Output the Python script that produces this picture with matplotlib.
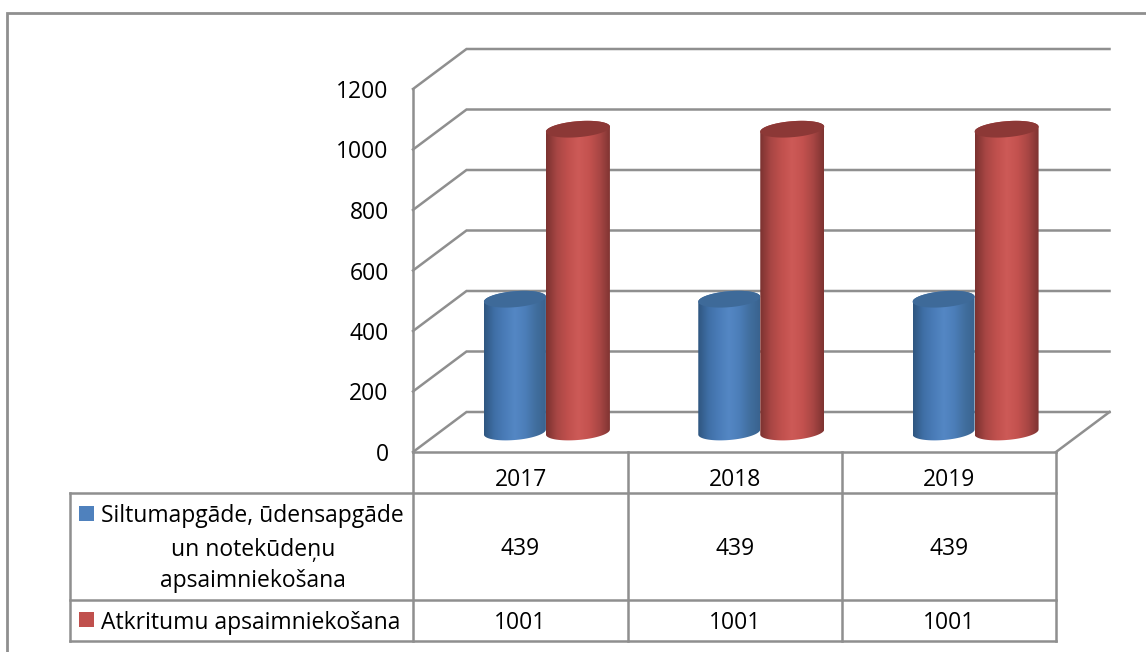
# 3D-look cylinder chart with a data table underneath

import numpy as np
import matplotlib
matplotlib.use("Agg")
import matplotlib.pyplot as plt
from matplotlib.colors import LinearSegmentedColormap
from matplotlib.patches import Polygon

years = ["2017", "2018", "2019"]
heat_water = [439, 439, 439]
waste = [1001, 1001, 1001]
y_ticks = [0, 200, 400, 600, 800, 1000, 1200]
series_names = ["Siltumapgāde, ūdensapgāde\nun notekūdeņu\napsaimniekošana",
                "Atkritumu apsaimniekošana"]

W, H = 1146, 652
GREY = "#8f8f8f"
FONT = "Open Sans"
FS = 16.5
LW = 1.8

plt.rcParams["font.family"] = [FONT, "DejaVu Sans"]
fig = plt.figure(figsize=(W / 100, H / 100), dpi=100)

# overlay in pixels for the frame and table rules
ov = fig.add_axes([0, 0, 1, 1], zorder=0)
ov.set_xlim(0, W)
ov.set_ylim(H, 0)
ov.axis("off")

# chart axes sit on the front plane of the 3D box
ax = fig.add_axes([413 / W, (H - 452) / H, 643 / W, 363 / H], zorder=1)
ax.patch.set_alpha(0)
ax.set_xlim(0, 3)
ax.set_ylim(0, 1200)
for s in ax.spines.values():
    s.set_visible(False)

px_x = 3 / 643
px_y = 1200 / 363
depth_x = 53.5 * px_x
depth_y = 40 * px_y

ax.set_yticks(y_ticks)
ax.set_yticklabels([str(v) for v in y_ticks], fontsize=FS, color="black", va="center_baseline")
ax.tick_params(axis="y", length=0, pad=17.5)
ax.set_xticks([])

# walls
for v in y_ticks:
    ax.plot([0, depth_x, 3 + depth_x], [v, v + depth_y, v + depth_y],
            color=GREY, lw=LW, clip_on=False, zorder=1, solid_joinstyle="miter")
ax.plot([0, 0], [0, 1200], color=GREY, lw=LW, clip_on=False, zorder=1)
ax.plot([3, 3 + depth_x], [0, depth_y], color=GREY, lw=LW, clip_on=False, zorder=1)

blue_cmap = LinearSegmentedColormap.from_list(
    "b", ["#2f5680", "#3f6fa6", "#4a7cb8", "#5487c4", "#4c7eb9", "#416f9f", "#3a638f"])
red_cmap = LinearSegmentedColormap.from_list(
    "r", ["#7b3230", "#a84644", "#c0504d", "#cd5a57", "#c4524f", "#a84644", "#7d3331"])


def cylinder(xc, value, width, cmap, top_color, z):
    # half axes of the end ellipses, with a small shear for the tilt
    a = width / 2
    b = 8 * px_y
    tilt = 2.5 * px_y
    mid = depth_y / 2
    t = np.linspace(0, 2 * np.pi, 80)
    ex = a * np.cos(t)
    ey = b * np.sin(t) + tilt * np.cos(t)

    lower = t[(t >= np.pi) & (t <= 2 * np.pi)]
    upper = lower[::-1]
    xs = np.r_[xc + a * np.cos(lower), xc + a * np.cos(upper)]
    ys = np.r_[mid + b * np.sin(lower) + tilt * np.cos(lower),
               value + mid + b * np.sin(upper + np.pi) + tilt * np.cos(upper)]
    body = Polygon(np.c_[xs, ys], closed=True, fc="none", ec="none", zorder=z)
    ax.add_patch(body)

    grad = np.linspace(0, 1, 200).reshape(1, -1)
    im = ax.imshow(grad, extent=[xc - a, xc + a, 0, value + 2 * depth_y],
                   aspect="auto", cmap=cmap, zorder=z, interpolation="bilinear")
    im.set_clip_path(body)

    ax.fill(xc + ex, value + mid + ey, color=top_color, lw=0, zorder=z + 0.1)


blue_w = 62 * px_x
red_w = 64 * px_x
for i in range(len(years)):
    centre = i + 0.5 + depth_x / 2
    cylinder(centre - 32 * px_x, heat_water[i], blue_w, blue_cmap, "#3e6a99", 3)
    cylinder(centre + 31 * px_x, waste[i], red_w, red_cmap, "#8c3836", 4)

ax.set_xlim(0, 3)
ax.set_ylim(0, 1200)

# outer frame
ov.plot([6.5, 6.5, W], [H, 13, 13], color=GREY, lw=2, solid_joinstyle="miter")

# table rules
row_y = [452, 493, 600, 641]
col_x = [413, 628, 842, 1056]
ov.plot([413, 1056], [row_y[0], row_y[0]], color=GREY, lw=LW)
for y in row_y[1:]:
    ov.plot([70, 1056], [y, y], color=GREY, lw=LW)
ov.plot([70, 70], [493, 641], color=GREY, lw=LW)
for x in col_x:
    ov.plot([x, x], [452, 641], color=GREY, lw=LW)

# table text
VA = "center_baseline"
centres = [(col_x[i] + col_x[i + 1]) / 2 for i in range(3)]
for cx, yr, a, b in zip(centres, years, heat_water, waste):
    ov.text(cx, 477, yr, ha="center", va=VA, fontsize=FS)
    ov.text(cx, 546, str(a), ha="center", va=VA, fontsize=FS)
    ov.text(cx, 620, str(b), ha="center", va=VA, fontsize=FS)

ov.fill([79, 94, 94, 79], [506, 506, 521, 521], color="#4f81bd", lw=0)
ov.fill([79, 94, 94, 79], [612, 612, 627, 627], color="#c0504d", lw=0)
lines = series_names[0].split("\n")
ov.text(101, 513, lines[0], ha="left", va=VA, fontsize=FS)
ov.text(253, 547, lines[1], ha="center", va=VA, fontsize=FS)
ov.text(253, 578, lines[2], ha="center", va=VA, fontsize=FS)
ov.text(101, 620, series_names[1], ha="left", va=VA, fontsize=FS)

fig.savefig("out.png", dpi=100)
